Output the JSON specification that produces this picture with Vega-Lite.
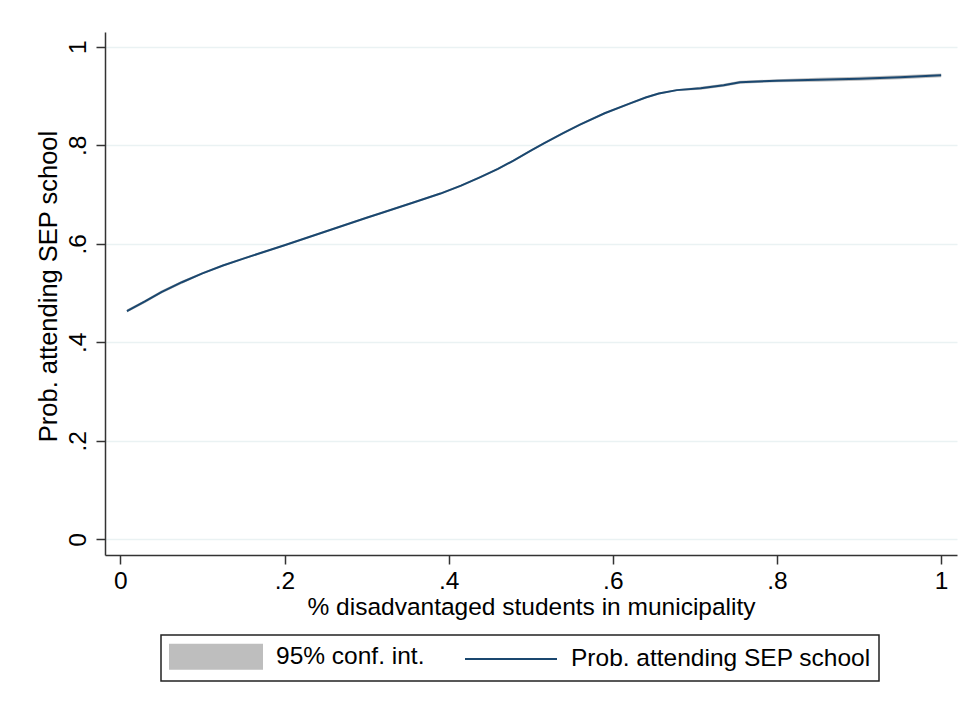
{
  "$schema": "https://vega.github.io/schema/vega-lite/v6.json",
  "width": 852,
  "height": 523,
  "autosize": {"type": "none"},
  "padding": {"left": 105, "top": 32, "right": 11, "bottom": 153},
  "background": "white",
  "config": {
    "view": {"stroke": null},
    "font": "Liberation Sans",
    "axis": {
      "domainColor": "#333333",
      "domainWidth": 1.5,
      "tickColor": "#333333",
      "tickWidth": 1.5,
      "tickSize": 9,
      "labelFont": "Liberation Sans",
      "labelFontSize": 24.5,
      "labelColor": "#000000",
      "titleFont": "Liberation Sans",
      "titleFontSize": 24.5,
      "titleFontWeight": "normal",
      "titleColor": "#000000",
      "gridColor": "#eaf2f3",
      "gridWidth": 1.5
    }
  },
  "data": {
    "values": [
      {"x": 0.008, "p": 0.4635, "lo": 0.4605, "hi": 0.4665},
      {"x": 0.03, "p": 0.483, "lo": 0.480, "hi": 0.486},
      {"x": 0.05, "p": 0.502, "lo": 0.499, "hi": 0.505},
      {"x": 0.075, "p": 0.522, "lo": 0.519, "hi": 0.525},
      {"x": 0.1, "p": 0.540, "lo": 0.538, "hi": 0.542},
      {"x": 0.125, "p": 0.556, "lo": 0.554, "hi": 0.558},
      {"x": 0.15, "p": 0.570, "lo": 0.568, "hi": 0.572},
      {"x": 0.2, "p": 0.597, "lo": 0.595, "hi": 0.599},
      {"x": 0.25, "p": 0.625, "lo": 0.623, "hi": 0.627},
      {"x": 0.3, "p": 0.653, "lo": 0.651, "hi": 0.655},
      {"x": 0.317, "p": 0.662, "lo": 0.660, "hi": 0.664},
      {"x": 0.357, "p": 0.684, "lo": 0.682, "hi": 0.686},
      {"x": 0.39, "p": 0.702, "lo": 0.700, "hi": 0.704},
      {"x": 0.415, "p": 0.718, "lo": 0.716, "hi": 0.720},
      {"x": 0.438, "p": 0.735, "lo": 0.733, "hi": 0.737},
      {"x": 0.46, "p": 0.752, "lo": 0.750, "hi": 0.754},
      {"x": 0.479, "p": 0.769, "lo": 0.767, "hi": 0.771},
      {"x": 0.5, "p": 0.789, "lo": 0.787, "hi": 0.791},
      {"x": 0.516, "p": 0.804, "lo": 0.802, "hi": 0.806},
      {"x": 0.54, "p": 0.825, "lo": 0.823, "hi": 0.827},
      {"x": 0.56, "p": 0.842, "lo": 0.840, "hi": 0.844},
      {"x": 0.59, "p": 0.865, "lo": 0.863, "hi": 0.867},
      {"x": 0.621, "p": 0.885, "lo": 0.883, "hi": 0.887},
      {"x": 0.64, "p": 0.897, "lo": 0.895, "hi": 0.899},
      {"x": 0.656, "p": 0.905, "lo": 0.903, "hi": 0.907},
      {"x": 0.678, "p": 0.912, "lo": 0.910, "hi": 0.914},
      {"x": 0.707, "p": 0.916, "lo": 0.913, "hi": 0.919},
      {"x": 0.735, "p": 0.922, "lo": 0.919, "hi": 0.925},
      {"x": 0.755, "p": 0.928, "lo": 0.925, "hi": 0.931},
      {"x": 0.8, "p": 0.931, "lo": 0.928, "hi": 0.934},
      {"x": 0.85, "p": 0.933, "lo": 0.929, "hi": 0.937},
      {"x": 0.9, "p": 0.935, "lo": 0.931, "hi": 0.939},
      {"x": 0.95, "p": 0.938, "lo": 0.934, "hi": 0.942},
      {"x": 1.0, "p": 0.942, "lo": 0.938, "hi": 0.946}
    ]
  },
  "encoding": {
    "x": {
      "field": "x",
      "type": "quantitative",
      "scale": {"domain": [-0.0187, 1.0193], "nice": false, "zero": false},
      "axis": {
        "title": "% disadvantaged students in municipality",
        "values": [0, 0.2, 0.4, 0.6, 0.8, 1],
        "labelExpr": "replace(format(datum.value, '~g'), '0.', '.')",
        "grid": false,
        "labelPadding": 5,
        "titlePadding": 3
      }
    }
  },
  "layer": [
    {
      "mark": {"type": "area", "opacity": 1},
      "encoding": {
        "y": {
          "field": "lo",
          "type": "quantitative",
          "scale": {"domain": [-0.0318, 1.030], "nice": false, "zero": false},
          "axis": {
            "title": "Prob. attending SEP school",
            "values": [0, 0.2, 0.4, 0.6, 0.8, 1],
            "labelExpr": "replace(format(datum.value, '~g'), '0.', '.')",
            "grid": true,
            "labelAngle": -90,
            "labelAlign": "center",
            "labelBaseline": "alphabetic",
            "labelPadding": 11,
            "titlePadding": 4,
            "titleFontSize": 25.5,
            "titleY": 254
          }
        },
        "y2": {"field": "hi"},
        "color": {
          "datum": "95% conf. int.",
          "type": "nominal",
          "scale": {
            "domain": ["95% conf. int.", "Prob. attending SEP school"],
            "range": ["#bebebe", "#1a476f"]
          },
          "legend": {
            "orient": "none",
            "legendX": 56,
            "legendY": 603,
            "direction": "horizontal",
            "title": null,
            "strokeColor": "#222222",
            "fillColor": "white",
            "padding": 8,
            "labelFont": "Liberation Sans",
            "labelFontSize": 24.5,
            "labelColor": "#000000",
            "labelLimit": 0,
            "labelOffset": 80,
            "columnPadding": 36,
            "symbolSize": 625,
            "labelExpr": "datum.value === 'Prob. attending SEP school' ? datum.label + '\u2002\u2002\u2002' : datum.label",
            "encoding": {
              "legend": {"strokeWidth": {"value": 1.5}},
              "symbols": {
                "shape": {"condition": {"test": "datum.value === '95% conf. int.'", "value": "M-1,-0.96H6.36V0.96H-1Z"}, "value": "M-1,0H6.36"},
                "fill": {"condition": {"test": "datum.value === '95% conf. int.'", "value": "#bebebe"}, "value": "transparent"},
                "stroke": {"condition": {"test": "datum.value === '95% conf. int.'", "value": "transparent"}, "value": "#1a476f"},
                "strokeWidth": {"value": 2},
                "opacity": {"value": 1},
                "fillOpacity": {"value": 1},
                "strokeOpacity": {"value": 1}
              }
            }
          }
        }
      }
    },
    {
      "mark": {"type": "line", "strokeWidth": 2},
      "encoding": {
        "y": {
          "field": "p",
          "type": "quantitative",
          "scale": {"domain": [-0.0318, 1.030], "nice": false, "zero": false},
          "axis": {
            "title": "Prob. attending SEP school",
            "values": [0, 0.2, 0.4, 0.6, 0.8, 1],
            "labelExpr": "replace(format(datum.value, '~g'), '0.', '.')",
            "grid": true,
            "labelAngle": -90,
            "labelAlign": "center",
            "labelBaseline": "alphabetic",
            "labelPadding": 11,
            "titlePadding": 4,
            "titleFontSize": 25.5,
            "titleY": 254
          }
        },
        "color": {
          "datum": "Prob. attending SEP school",
          "type": "nominal"
        }
      }
    }
  ]
}
